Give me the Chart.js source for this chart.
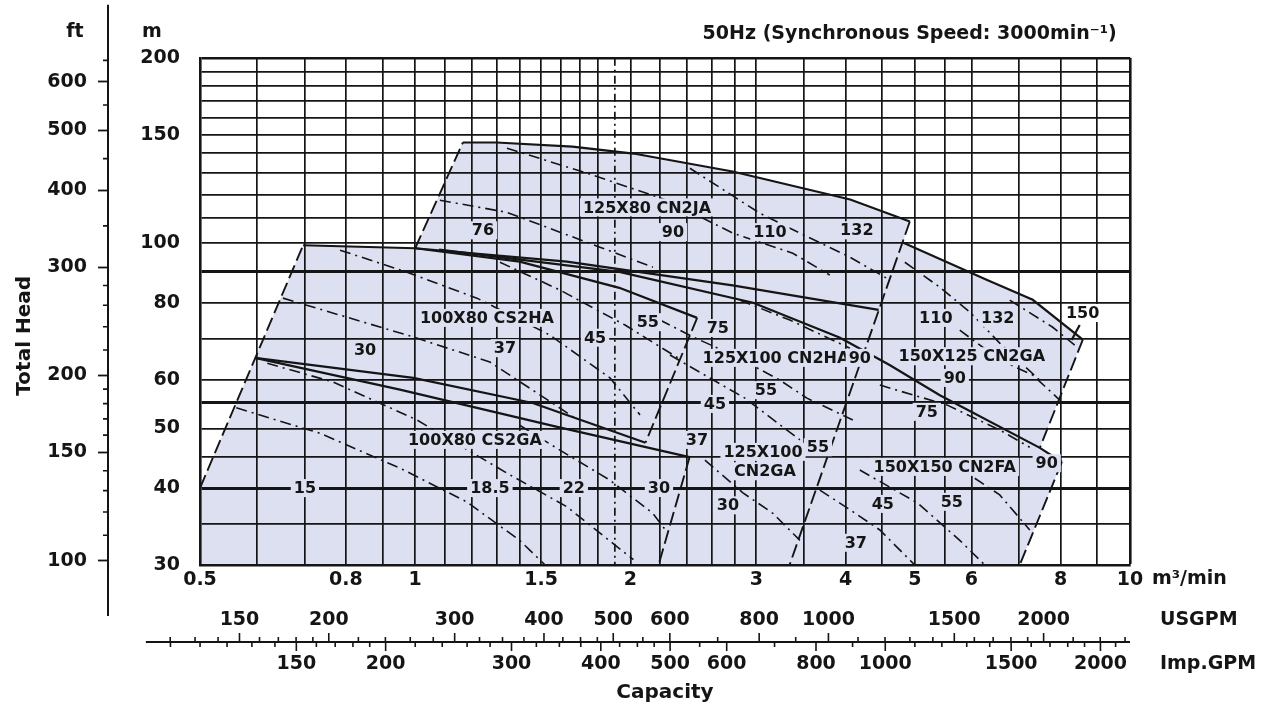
<!DOCTYPE html>
<html>
<head>
<meta charset="utf-8">
<title>Pump Selection Chart 50Hz</title>
<script src="https://cdn.jsdelivr.net/npm/chart.js@4.4.1/dist/chart.umd.min.js"></script>
<style>
    html, body { margin: 0; padding: 0; background: #fff; }
</style>
</head>
<body>
<canvas id="pumpChart" width="1275" height="714"></canvas>
<script>
// ---- axes (capacity in m3/min, head in m) ----
const capacityGrid = [0.5, 0.6, 0.7, 0.8, 0.9, 1, 1.1, 1.2, 1.3, 1.4, 1.5, 1.6, 1.7, 1.8, 1.9, 2, 2.2, 2.4, 2.6, 2.8, 3, 3.5, 4, 4.5, 5, 5.5, 6, 7, 8, 9, 10];
const capacityLabels = [0.5, 0.8, 1, 1.5, 2, 3, 4, 5, 6, 8, 10];
const headGrid = [30, 35, 40, 45, 50, 55, 60, 70, 80, 90, 100, 110, 120, 130, 140, 150, 160, 170, 180, 190, 200];
const headLabels = [30, 40, 50, 60, 80, 100, 150, 200];
const heavyHead = [40, 55, 90];

const ftMajor = [100, 150, 200, 300, 400, 500, 600];
const ftMinor = [110, 120, 130, 140, 160, 170, 180, 190, 220, 240, 260, 280, 350, 450, 550, 650];
const usgpmMajor = [150, 200, 300, 400, 500, 600, 800, 1000, 1500, 2000];
const usgpmMinor = [120, 130, 140, 160, 170, 180, 190, 220, 240, 260, 280, 325, 350, 375, 425, 450, 475, 550, 700, 900, 1100, 1200, 1300, 1400, 1600, 1700, 1800, 1900, 2200, 2400, 2600];
const impMajor = [150, 200, 300, 400, 500, 600, 800, 1000, 1500, 2000];
const impMinor = [100, 110, 120, 130, 140, 160, 170, 180, 190, 220, 240, 260, 280, 325, 350, 375, 425, 450, 475, 550, 700, 900, 1100, 1200, 1300, 1400, 1600, 1700, 1800, 1900, 2100];
const usgpmPerM3min = 264.172;
const impPerM3min = 219.969;
const gpmAxisStart = 0.42; // m3/min where the GPM scale line begins

// ---- covered range (all models) [m3/min, m] ----
const shadeArea = [[0.5, 30], [0.5, 40], [0.697, 99.2], [1.0, 98.1], [1.166, 145.7], [1.30, 145.7], [1.66, 143.5], [2.02, 139.8], [2.78, 130.7], [4.06, 117.7], [4.92, 108.4], [4.81, 100.2], [6.30, 87.2], [7.31, 80.9], [8.59, 69.7], [7.48, 46.5], [8.03, 44.1], [7.01, 30]];

// ---- impeller curves (solid) ----
const cn2jaTop = [[1.166, 145.7], [1.30, 145.7], [1.66, 143.5], [2.02, 139.8], [2.78, 130.7], [4.06, 117.7], [4.92, 108.4]];
const cn2jaBottom = [[1.0, 98.1], [1.63, 93.3], [2.78, 85.4], [4.45, 77.9]];
const cs2haTop = [[0.697, 99.2], [1.0, 98.1], [1.40, 93.3], [1.93, 84.6], [2.48, 75.6]];
const cs2haBottom = [[0.597, 65.1], [0.994, 60.4], [1.46, 55.0], [2.10, 47.4]];
const cs2gaTop = [[0.597, 65.1], [0.952, 57.8], [1.58, 50.3], [2.42, 44.9]];
const cn2haTop = [[1.08, 97.6], [1.93, 89.8], [2.97, 80.0], [3.93, 70.2], [4.61, 63.4], [5.42, 56.6], [7.48, 46.5], [8.03, 44.1]];
const cn2ga150Top = [[4.81, 100.2], [6.30, 87.2], [7.31, 80.9], [8.59, 69.7]];
const leader150 = [[8.504, 73.6], [8.287, 69.6]];

// ---- flow limits (dashed) ----
const leftLimit = [[0.5, 40], [0.697, 99.2]];
const cn2jaLeft = [[1.0, 98.1], [1.166, 145.7]];
const cs2haRight = [[2.48, 75.6], [2.10, 47.4]];
const cs2gaRight = [[2.42, 44.9], [2.19, 30]];
const cn2haRight = [[4.92, 108.4], [3.34, 30]];
const cn2ga150Right = [[8.59, 69.7], [7.48, 46.5]];
const cn2faRight = [[8.03, 44.1], [7.01, 30]];

// ---- motor kW borders (dash-dot) ----
const cn2jaPower = [
    [[1.083, 117.4], [1.344, 112.2], [1.528, 106.1], [1.813, 98.5], [2.151, 91.4]],
    [[1.344, 142.6], [1.739, 129.9], [2.25, 117.4], [2.783, 103.8], [3.375, 96.3], [3.803, 88.7]],
    [[2.423, 132.3], [3.036, 111.8], [3.453, 103.8], [4.056, 94.9], [4.613, 87.1]]
];
const cs2haPower = [
    [[0.653, 81.4], [0.994, 70.4], [1.272, 64.1], [1.673, 52.0]],
    [[0.785, 97.4], [0.974, 89.7], [1.22, 81.4], [1.543, 70.9], [1.873, 60.4], [2.063, 52.6]],
    [[1.314, 93.1], [1.594, 83.9], [1.966, 73.6], [2.331, 65.1]]
];
const cs2gaPower = [
    [[0.562, 54.0], [0.736, 49.1], [0.952, 43.1], [1.18, 38.0], [1.40, 32.9], [1.52, 30]],
    [[0.621, 63.8], [0.767, 59.5], [1.006, 51.6], [1.344, 42.3], [1.63, 37.3], [2.02, 30.6]],
    [[1.40, 50.6], [1.594, 46.1], [1.873, 41.2], [2.15, 36.4], [2.24, 34.2]]
];
const cn2haPower = [
    [[2.20, 75.0], [2.447, 70.4], [2.783, 65.8], [3.238, 59.9], [3.532, 56.0], [4.095, 51.6]],
    [[2.846, 80.8], [3.343, 75.0], [4.056, 67.5]],
    [[2.272, 65.8], [2.892, 56.0], [3.453, 47.9]]
];
const cn2gaPower = [
    [[2.543, 44.4], [2.874, 39.3], [3.165, 36.4], [3.453, 32.9]]
];
const cn2ga150Power = [
    [[4.842, 93.1], [5.418, 84.8], [5.968, 77.3], [6.573, 68.8], [7.476, 59.9]],
    [[6.788, 80.8], [7.796, 73.0], [8.368, 68.3]],
    [[5.779, 72.2], [6.573, 64.6], [7.31, 61.05], [7.974, 55.6]],
    [[4.467, 58.8], [5.542, 54.6], [6.573, 49.7], [7.24, 46.6]]
];
const cn2faPower = [
    [[4.188, 42.8], [5.049, 37.8], [5.779, 32.9], [6.264, 30]],
    [[6.065, 41.5], [6.573, 39.0], [7.24, 34.2]],
    [[3.682, 39.7], [4.056, 36.9], [4.467, 34.2], [5.0, 30]]
];

// ---- labels ----
const labelText = ['125X80 CN2JA', '76', '90', '110', '132', '100X80 CS2HA', '30', '37', '45', '55', '75',
    '125X100 CN2HA', '90', '45', '55', '100X80 CS2GA', '37', '125X100', 'CN2GA', '55',
    '15', '18.5', '22', '30', '30', '110', '132', '150', '150X125 CN2GA', '90', '75',
    '150X150 CN2FA', '90', '45', '55', '37'];
const labelQ = [2.11, 1.244, 2.294, 3.135, 4.148, 1.26, 0.851, 1.335, 1.785, 2.116, 2.651,
    3.197, 4.188, 2.626, 3.095, 1.212, 2.478, 3.066, 3.085, 3.659,
    0.701, 1.272, 1.667, 2.193, 2.739, 5.35, 6.531, 8.586, 6.007, 5.687, 5.197,
    5.506, 7.647, 4.51, 5.632, 4.135];
const labelH = [114.3, 104.9, 104.2, 104.2, 104.9, 75.6, 67.0, 67.5, 70.2, 74.4, 72.8,
    65.1, 65.1, 54.8, 57.7, 47.9, 47.9, 45.8, 42.6, 46.6,
    40, 40, 40, 40, 37.5, 75.6, 75.6, 77.0, 65.5, 60.4, 53.2,
    43.3, 43.9, 37.7, 38.0, 32.6];
const outsideLabels = [27]; // "150" sits on the white part

const SHADE = '#dde0f0';
const INK = '#151515';
const FONT = '"DejaVu Sans", sans-serif';

const toPts = arr => arr.map(p => ({ x: p[0], y: p[1] }));
const datasets = [];

datasets.push({
    data: toPts(shadeArea), showLine: true, fill: 'shape',
    backgroundColor: SHADE, borderColor: 'rgba(0,0,0,0)', borderWidth: 0, pointRadius: 0
});
[cn2jaTop, cn2jaBottom, cs2haTop, cs2haBottom, cs2gaTop, cn2haTop, cn2ga150Top, leader150].forEach(c => {
    datasets.push({ data: toPts(c), showLine: true, fill: false, borderColor: INK, borderWidth: 2.2, pointRadius: 0 });
});
[leftLimit, cn2jaLeft, cs2haRight, cs2gaRight, cn2haRight, cn2ga150Right, cn2faRight].forEach(c => {
    datasets.push({ data: toPts(c), showLine: true, fill: false, borderColor: INK, borderWidth: 1.9, borderDash: [14, 5], pointRadius: 0 });
});
[...cn2jaPower, ...cs2haPower, ...cs2gaPower, ...cn2haPower, ...cn2gaPower, ...cn2ga150Power, ...cn2faPower].forEach(c => {
    datasets.push({ data: toPts(c), showLine: true, fill: false, borderColor: INK, borderWidth: 1.6, borderDash: [11, 5, 2, 5], pointRadius: 0 });
});

// model / kW labels with a shaded box behind them
const curveLabels = {
    id: 'curveLabels',
    afterDatasetsDraw(chart) {
        const { ctx, scales: { x, y } } = chart;
        ctx.save();
        ctx.font = 'bold 16px ' + FONT;
        ctx.textAlign = 'center';
        ctx.textBaseline = 'middle';
        labelText.forEach((t, i) => {
            const px = x.getPixelForValue(labelQ[i]);
            const py = y.getPixelForValue(labelH[i]);
            const w = ctx.measureText(t).width;
            ctx.fillStyle = outsideLabels.includes(i) ? '#fff' : SHADE;
            ctx.fillRect(px - w / 2 - 3, py - 9, w + 6, 18);
            ctx.fillStyle = INK;
            ctx.fillText(t, px, py + 1);
        });
        ctx.restore();
    }
};

// USGPM / Imp.GPM double scale, ft minor ticks, unit captions
const extraScales = {
    id: 'extraScales',
    afterDraw(chart) {
        const { ctx, chartArea, scales: { x, y, yft } } = chart;
        const lineY = chartArea.bottom + 77;
        ctx.save();
        ctx.strokeStyle = INK;
        ctx.fillStyle = INK;

        ctx.lineWidth = 2;
        ctx.beginPath();
        ctx.moveTo(x.getPixelForValue(gpmAxisStart), lineY);
        ctx.lineTo(x.getPixelForValue(10), lineY);
        ctx.moveTo(yft.right, chartArea.top - 53);
        ctx.lineTo(yft.right, chartArea.bottom + 51);
        ctx.stroke();

        const tickX = (v, dir, len) => {
            const px = x.getPixelForValue(v);
            ctx.moveTo(px, lineY);
            ctx.lineTo(px, lineY + dir * len);
        };
        ctx.lineWidth = 1.6;
        ctx.beginPath();
        usgpmMajor.forEach(v => tickX(v / usgpmPerM3min, -1, 9));
        usgpmMinor.forEach(v => tickX(v / usgpmPerM3min, -1, 5));
        impMajor.forEach(v => tickX(v / impPerM3min, 1, 9));
        impMinor.forEach(v => tickX(v / impPerM3min, 1, 5));
        ftMinor.forEach(v => {
            const py = yft.getPixelForValue(v);
            ctx.moveTo(yft.right - 5, py);
            ctx.lineTo(yft.right, py);
        });
        ctx.stroke();

        ctx.font = 'bold 19px ' + FONT;
        ctx.textAlign = 'center';
        ctx.textBaseline = 'middle';
        usgpmMajor.forEach(v => ctx.fillText(String(v), x.getPixelForValue(v / usgpmPerM3min), lineY - 22));
        impMajor.forEach(v => ctx.fillText(String(v), x.getPixelForValue(v / impPerM3min), lineY + 22));
        ctx.fillText('ft', yft.right - 33, chartArea.top - 26);
        ctx.fillText('m', y.left + 44, chartArea.top - 26);

        ctx.textAlign = 'left';
        ctx.fillText('m³/min', chartArea.right + 22, chartArea.bottom + 14);
        ctx.fillText('USGPM', chartArea.right + 30, lineY - 22);
        ctx.fillText('Imp.GPM', chartArea.right + 30, lineY + 22);
        ctx.restore();
    }
};

Chart.defaults.font.family = FONT;
Chart.defaults.font.size = 19;
Chart.defaults.font.weight = 'bold';
Chart.defaults.color = INK;

new Chart(document.getElementById('pumpChart'), {
    type: 'scatter',
    data: { datasets: datasets },
    options: {
        responsive: false,
        animation: false,
        events: [],
        layout: { padding: { left: 0, right: 145, top: 0, bottom: 0 } },
        plugins: {
            legend: { display: false },
            tooltip: { enabled: false },
            filler: { drawTime: 'beforeDraw' },
            title: {
                display: true,
                text: '50Hz (Synchronous Speed: 3000min⁻¹)\u00a0\u00a0',
                align: 'end',
                color: INK,
                font: { size: 19, weight: 'bold' },
                padding: { top: 23, bottom: 12 }
            }
        },
        scales: {
            x: {
                type: 'logarithmic',
                position: 'bottom',
                min: 0.5,
                max: 10,
                afterBuildTicks: s => { s.ticks = capacityGrid.map(v => ({ value: v })); },
                afterFit: s => { s.height = 149; },
                grid: {
                    drawTicks: false,
                    color: INK,
                    lineWidth: c => (c.tick && c.tick.value === 10) ? 2.6 : 1.7
                },
                border: {
                    display: true, width: 2.6, color: INK,
                    dash: c => (c.tick && c.tick.value === 1.9) ? [8, 4, 2, 4] : []
                },
                ticks: {
                    padding: 4,
                    autoSkip: false,
                    maxRotation: 0,
                    callback: v => capacityLabels.includes(v) ? String(v) : ''
                },
                title: {
                    display: true,
                    text: 'Capacity',
                    font: { size: 20, weight: 'bold' },
                    padding: { top: 0, bottom: 9 }
                }
            },
            y: {
                type: 'logarithmic',
                position: 'left',
                weight: 1,
                min: 30,
                max: 200,
                afterBuildTicks: s => { s.ticks = headGrid.map(v => ({ value: v })); },
                afterFit: s => { s.width = 92; },
                grid: {
                    drawTicks: false,
                    color: INK,
                    lineWidth: c => {
                        if (!c.tick) return 1.7;
                        if (heavyHead.includes(c.tick.value)) return 3;
                        return c.tick.value === 200 ? 2.6 : 1.7;
                    }
                },
                border: { display: true, width: 2.6, color: INK },
                ticks: {
                    padding: 20,
                    autoSkip: false,
                    callback: v => headLabels.includes(v) ? String(v) : ''
                }
            },
            yft: {
                type: 'logarithmic',
                position: 'left',
                weight: 2,
                min: 30 / 0.3048,
                max: 200 / 0.3048,
                afterBuildTicks: s => { s.ticks = ftMajor.map(v => ({ value: v })); },
                afterFit: s => { s.width = 108; },
                grid: { drawOnChartArea: false, drawTicks: true, tickLength: 10, tickWidth: 1.8, tickColor: INK },
                border: { display: true, width: 2, color: INK },
                ticks: { padding: 11, autoSkip: false, callback: v => String(v) },
                title: {
                    display: true,
                    text: 'Total Head' + '\u00a0'.repeat(7),
                    font: { size: 20, weight: 'bold' },
                    padding: { top: 13, bottom: 0 }
                }
            }
        }
    },
    plugins: [curveLabels, extraScales]
});
</script>
</body>
</html>
